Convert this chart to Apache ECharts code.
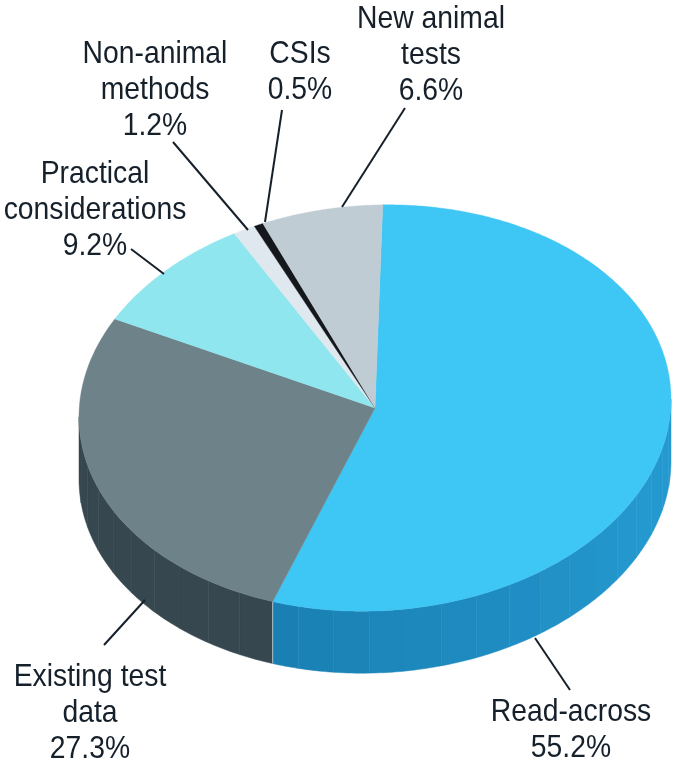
<!DOCTYPE html>
<html>
<head>
<meta charset="utf-8">
<title>Pie</title>
<style>
html,body{margin:0;padding:0;background:#fff;}
#main{width:675px;height:765px;}
</style>
<script src="https://cdn.jsdelivr.net/npm/echarts@6/dist/echarts.min.js"></script>
</head>
<body>
<div id="main"></div>
<script>
// clockwise from the top of the pie
var categories = ['Read-across', 'Existing test\ndata', 'Practical\nconsiderations', 'Non-animal\nmethods', 'CSIs', 'New animal\ntests'];
var shares = [55.2, 27.3, 9.2, 1.2, 0.5, 6.6];
var topColors = ['#3ec6f4', '#6d8289', '#8fe6ee', '#e0e8ef', '#14181d', '#bfccd4'];
var sideColors = [['#1a7fb2', '#2499d0'], ['#36474f', '#36474f'], ['#5fb5bd', '#5fb5bd'], ['#a0a8b0', '#a0a8b0'], ['#0a0c0e', '#0a0c0e'], ['#8a959c', '#8a959c']];

// label centre and leader line for each slice [textX, textY, x1, y1, x2, y2]
var labelPos = [
    [571, 730, 535, 638, 570, 690],
    [90, 713, 145, 600, 104, 645],
    [95, 210, 131, 249, 164, 274],
    [155, 90, 173, 142, 248, 230],
    [300, 72, 282, 110, 265, 222],
    [431, 55, 405, 108, 342, 207]
];

// the disc is drawn slightly tilted, left side lower than right
var cx = 375, cy = 408, rx = 296, ry = 203, depth = 62, startDeg = 1.5, tilt = 0.03;
var total = shares.reduce(function (a, b) { return a + b; }, 0);

function pt(deg, dy) {
    var r = deg * Math.PI / 180;
    var ox = rx * Math.sin(r);
    return [cx + ox, cy - ry * Math.cos(r) - tilt * ox + (dy || 0)];
}

function mix(c1, c2, t) {
    var out = '#';
    for (var i = 1; i < 7; i += 2) {
        var a = parseInt(c1.substr(i, 2), 16), b = parseInt(c2.substr(i, 2), 16);
        var v = Math.round(a + (b - a) * t).toString(16);
        out += v.length < 2 ? '0' + v : v;
    }
    return out;
}

function renderSlice(params, api) {
    var i = params.dataIndex;
    var before = 0;
    for (var k = 0; k < i; k++) before += shares[k];
    var from = startDeg + before / total * 360;
    var to = from + api.value(0) / total * 360;
    var children = [];

    // side wall, only the front half of the disc shows. split in facets
    var s0 = Math.max(from, 90), s1 = Math.min(to, 270);
    if (s1 > s0) {
        var step = 7;
        for (var a = s0; a < s1; a += step) {
            var b = Math.min(a + step, s1);
            var wall = [];
            for (var n = 0; n <= 8; n++) wall.push(pt(a + (b - a) * n / 8, 0));
            for (var m = 8; m >= 0; m--) wall.push(pt(a + (b - a) * m / 8, depth));
            var col = mix(sideColors[i][0], sideColors[i][1], Math.min(1, Math.abs(200 - (a + b) / 2) / 85));
            children.push({
                type: 'polygon',
                shape: { points: wall },
                style: { fill: col, stroke: col, lineWidth: 0.5 }
            });
        }
    }
    if (i === 0) {
        // light seam where the two big slices meet on the wall
        var s1a = pt(to, 0), s1b = pt(to, depth);
        children.push({
            type: 'line',
            z2: 5,
            shape: { x1: s1a[0], y1: s1a[1], x2: s1b[0], y2: s1b[1] },
            style: { stroke: 'rgba(205,225,235,0.8)', lineWidth: 1 }
        });
    }

    // top face
    var face = [[cx, cy]];
    for (var t = from; t < to; t += 0.5) face.push(pt(t, 0));
    face.push(pt(to, 0));
    children.push({
        type: 'polygon',
        z2: 10,
        shape: { points: face },
        style: { fill: topColors[i], stroke: topColors[i], lineWidth: 0.4 }
    });

    // leader line and label
    var p = labelPos[i];
    children.push({
        type: 'line',
        z2: 20,
        shape: { x1: p[2], y1: p[3], x2: p[4], y2: p[5] },
        style: { stroke: '#15202b', lineWidth: 2 }
    });
    children.push({
        type: 'text',
        z2: 20,
        x: p[0],
        y: p[1],
        scaleX: 0.885,
        style: {
            text: categories[i] + '\n' + api.value(0).toFixed(1) + '%',
            x: 0,
            y: 0,
            align: 'center',
            verticalAlign: 'middle',
            fill: '#15202b',
            fontFamily: '"Liberation Sans", sans-serif',
            fontSize: 32,
            lineHeight: 36
        }
    });
    return { type: 'group', children: children };
}

var chart = echarts.init(document.getElementById('main'));
chart.setOption({
    animation: false,
    backgroundColor: '#fff',
    series: [{
        type: 'custom',
        coordinateSystem: 'none',
        renderItem: renderSlice,
        data: shares.map(function (v) { return [v]; })
    }]
});
</script>
</body>
</html>
